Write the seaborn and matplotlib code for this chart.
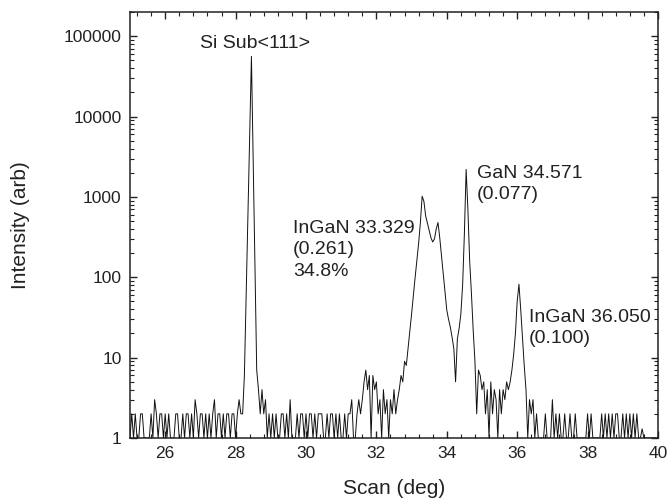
import numpy as np
import pandas as pd
import matplotlib
matplotlib.use('Agg')
from matplotlib import pyplot as plt
from matplotlib.ticker import MultipleLocator, LogLocator, FuncFormatter, NullFormatter
import seaborn as sns

sns.set_style('ticks')
plt.rcParams['font.family'] = ['Liberation Sans', 'DejaVu Sans']

# scan grid (deg), counts at 0.05 deg steps
scan_start, scan_step = 25.0, 0.05

# 25.00 - 28.20 background
noise_lo = [1, 2, 1, 2, 1, 1, 2, 2, 1, 1,
            1, 1, 2, 1, 3, 2, 1, 2, 2, 1,
            2, 1, 2, 1, 1, 1, 2, 2, 1, 1,
            2, 1, 2, 2, 1, 2, 1, 3, 2, 1,
            2, 2, 1, 2, 1, 2, 1, 2, 3, 1,
            2, 2, 1, 2, 1, 2, 2, 1, 2, 2,
            1, 2, 3, 2, 2]
# 28.25 - 28.90 Si substrate peak
si_peak = [6, 60, 580, 5600, 56000, 2800, 140, 7, 4, 2,
           4, 2, 3, 1]
# 28.95 - 31.55 background
noise_mid = [2, 1, 2, 1, 2, 1, 1, 2, 2, 1,
             2, 1, 3, 1, 1, 1, 2, 1, 2, 2,
             1, 2, 1, 2, 2, 1, 2, 1, 2, 2,
             2, 1, 1, 2, 1, 2, 2, 1, 2, 1,
             2, 1, 1, 2, 1, 2, 2, 3, 1, 1,
             2, 3, 2]
# 31.60 - 35.75 InGaN / GaN band
ingan_gan = [3, 5, 7, 4, 6, 1, 6, 4, 5, 2,
             3, 1, 4, 2, 3, 1, 3, 2, 4, 2,
             3, 4, 6, 5, 9, 8, 13, 21, 35, 59,
             99, 160, 265, 480, 1020, 880, 580, 470, 380, 310,
             275, 300, 400, 480, 310, 185, 107, 65, 39, 30,
             24, 18, 13, 5, 17, 23, 35, 80, 350, 2200,
             690, 160, 63, 22, 9, 2, 7, 6, 4, 5,
             2, 4, 1, 5, 2, 4, 3, 1, 4, 2,
             4, 3, 5, 4]
# 35.80 - 40.00 InGaN 36.05 peak and background
ingan36_hi = [5, 7, 11, 20, 50, 82, 40, 18, 8, 4,
              1, 3, 2, 3, 1, 2, 1, 1, 1, 1,
              2, 1, 1, 1, 3, 1, 2, 1, 2, 1,
              1, 2, 1, 1, 2, 1, 1, 2, 1, 1,
              1, 1, 1, 1, 2, 1, 2, 1, 1, 1,
              1, 1, 2, 1, 2, 1, 2, 1, 2, 1,
              2, 2, 1, 1, 2, 1, 2, 1, 2, 1,
              2, 1, 2, 1, 1, 1.3, 1, 1, 1, 1,
              1, 1, 1, 1, 1]

intensity = noise_lo + si_peak + noise_mid + ingan_gan + ingan36_hi
scan = scan_start + scan_step * np.arange(len(intensity))
df = pd.DataFrame({'Scan': scan, 'Intensity': intensity})

# plotting
fig = plt.figure(figsize=(6.68, 4.99), dpi=100)
ax = fig.add_axes([0.1946, 0.1222, 0.7904, 0.8538])
ax.set_yscale('log')
sns.lineplot(data=df, x='Scan', y='Intensity', ax=ax, color='#111111',
             linewidth=0.7, estimator=None)
ax.set_xlim(25, 40)
ax.set_ylim(1, 2e5)

ax.xaxis.set_major_locator(MultipleLocator(2))
ax.xaxis.set_minor_locator(MultipleLocator(0.4))
ax.yaxis.set_major_locator(LogLocator(base=10))
ax.yaxis.set_minor_locator(LogLocator(base=10, subs=range(2, 10)))
ax.yaxis.set_major_formatter(FuncFormatter(lambda v, p: f'{int(round(v))}'))
ax.yaxis.set_minor_formatter(NullFormatter())
ax.tick_params(which='both', direction='in', top=True, right=True,
               colors='#222222', labelsize=12.5, pad=6)
ax.tick_params(which='major', length=5, width=1)
ax.tick_params(which='minor', length=3, width=0.8)
for sp in ax.spines.values():
    sp.set_linewidth(1.1)
    sp.set_color('#222222')

ax.set_xlabel('Scan (deg)', fontsize=15, color='#222222', labelpad=13)
ax.set_ylabel('Intensity (arb)', fontsize=15, color='#222222', labelpad=24)

# peak labels
tkw = dict(fontsize=14, color='#222222')
ax.text(28.55, 8e4, 'Si Sub<111>', ha='center', va='center', **tkw)
ax.text(29.63, 520, 'InGaN 33.329\n(0.261)\n34.8%', ha='left', va='top',
        linespacing=1.35, **tkw)
ax.text(34.86, 2500, 'GaN 34.571\n(0.077)', ha='left', va='top',
        linespacing=1.3, **tkw)
ax.text(36.34, 40, 'InGaN 36.050\n(0.100)', ha='left', va='top',
        linespacing=1.3, **tkw)

plt.savefig('out.png', dpi=100)
